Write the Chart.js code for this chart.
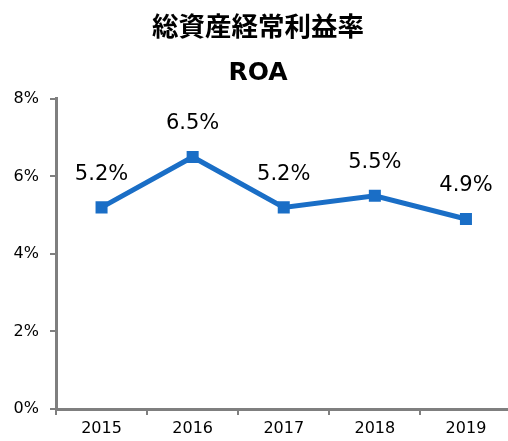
<!DOCTYPE html>
<html><head><meta charset="utf-8">
<script src="https://cdn.jsdelivr.net/npm/chart.js@4"></script>
<style>html,body{margin:0;padding:0;overflow:hidden;background:#fff}</style>
</head><body>
<canvas id="c" width="520" height="441"></canvas>
<script>
const categories = ['2015','2016','2017','2018','2019'];
const roaValues = [5.2, 6.5, 5.2, 5.5, 4.9];
const yTicks = [0, 2, 4, 6, 8];
const titleText = '総資産経常利益率';
const subtitleText = 'ROA';

const lineColor = '#1a6ec6';
const axisColor = '#7f7f7f';

const labelPlugin = {
  id: 'pointLabels',
  afterDatasetsDraw(chart) {
    const ctx = chart.ctx;
    const meta = chart.getDatasetMeta(0);
    ctx.save();
    ctx.font = '21px "DejaVu Sans"';
    ctx.fillStyle = '#000';
    ctx.textAlign = 'center';
    ctx.textBaseline = 'middle';
    meta.data.forEach((pt, i) => {
      ctx.fillText(roaValues[i].toFixed(1) + '%', pt.x, pt.y - 33);
    });
    ctx.restore();
  }
};

new Chart(document.getElementById('c'), {
  type: 'line',
  data: {
    labels: categories,
    datasets: [{
      data: roaValues,
      borderColor: lineColor,
      backgroundColor: lineColor,
      borderWidth: 5,
      pointStyle: 'rect',
      pointRadius: 8.5,
      pointBorderWidth: 0,
      tension: 0
    }]
  },
  options: {
    responsive: false,
    animation: false,
    layout: { padding: { left: 0, right: 4, top: 0, bottom: 0 } },
    plugins: {
      legend: { display: false },
      tooltip: { enabled: false },
      title: {
        display: true,
        text: titleText,
        color: '#000',
        font: { family: '"Noto Sans CJK JP"', size: 26.5, weight: 'bold', lineHeight: 1.2 },
        padding: { top: 10, bottom: 17 }
      },
      subtitle: {
        display: true,
        text: subtitleText,
        color: '#000',
        font: { family: '"DejaVu Sans"', size: 25, weight: 'bold', lineHeight: 1.2 },
        padding: { top: 0, bottom: 10 }
      }
    },
    scales: {
      x: {
        type: 'category',
        offset: true,
        grid: { display: true, drawOnChartArea: false, offset: true, tickLength: 6, color: axisColor, lineWidth: 2 },
        border: { display: true, color: axisColor, width: 3 },
        ticks: { color: '#000', font: { family: '"DejaVu Sans"', size: 16 }, padding: 4, maxRotation: 0 },
        afterFit(s) { s.height = 32; }
      },
      y: {
        min: 0, max: 8,
        afterBuildTicks(s) { s.ticks = yTicks.map(v => ({ value: v })); },
        grid: { display: true, drawOnChartArea: false, tickLength: 6, color: axisColor, lineWidth: 2 },
        border: { display: true, color: axisColor, width: 3 },
        ticks: { color: '#000', font: { family: '"DejaVu Sans"', size: 16 }, padding: 11, callback: v => v + '%' },
        afterFit(s) { s.width = 56; }
      }
    }
  },
  plugins: [labelPlugin]
});
</script>
</body></html>
